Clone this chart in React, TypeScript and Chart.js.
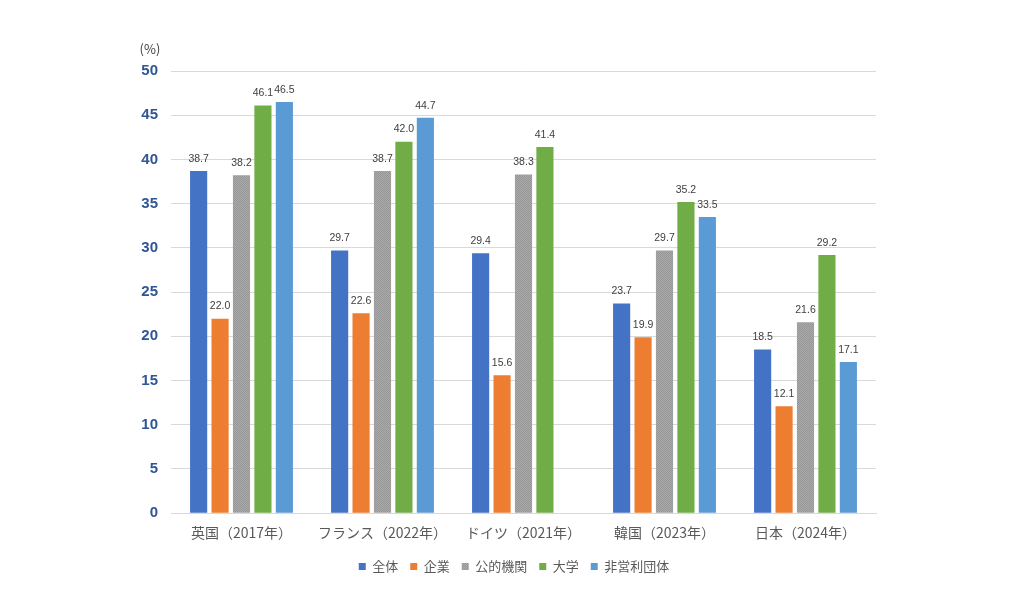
import { useEffect, useRef } from "react"
import { Chart, registerables } from "chart.js"
import type { Plugin } from "chart.js"

Chart.register(...registerables)

const categories = ["英国（2017年）", "フランス（2022年）", "ドイツ（2021年）", "韓国（2023年）", "日本（2024年）"]
const seriesNames = ["全体", "企業", "公的機関", "大学", "非営利団体"]
const overall = [38.7, 29.7, 29.4, 23.7, 18.5]
const business = [22.0, 22.6, 15.6, 19.9, 12.1]
const publicSector = [38.2, 38.7, 38.3, 29.7, 21.6]
const university = [46.1, 42.0, 41.4, 35.2, 29.2]
const nonProfit = [46.5, 44.7, null, 33.5, 17.1]
const yTicks = [0, 5, 10, 15, 20, 25, 30, 35, 40, 45, 50]

function grayPattern(): CanvasPattern | string {
  const c = document.createElement("canvas")
  c.width = 2
  c.height = 2
  const g = c.getContext("2d")
  if (!g) return "#a5a5a5"
  g.fillStyle = "#aaaaaa"
  g.fillRect(0, 0, 2, 2)
  g.fillStyle = "#969696"
  g.fillRect(0, 0, 1, 1)
  g.fillRect(1, 1, 1, 1)
  return g.createPattern(c, "repeat") || "#a5a5a5"
}

// value labels above each bar + "(%)" unit label
const labelsPlugin: Plugin<"bar"> = {
  id: "valueLabels",
  afterDatasetsDraw(chart) {
    const ctx = chart.ctx
    ctx.save()
    ctx.font = "10.5px 'Liberation Sans', 'Noto Sans', sans-serif"
    ctx.fillStyle = "#404040"
    ctx.textAlign = "center"
    ctx.textBaseline = "bottom"
    chart.data.datasets.forEach((ds, i) => {
      const meta = chart.getDatasetMeta(i)
      meta.data.forEach((bar, j) => {
        const v = ds.data[j] as number | null
        if (v == null) return
        ctx.fillText(v.toFixed(1), bar.x, bar.y - 7)
      })
    })
    ctx.font = "13px 'Noto Sans CJK JP', sans-serif"
    ctx.fillStyle = "#404040"
    ctx.textAlign = "center"
    ctx.textBaseline = "middle"
    ctx.fillText("(%)", chart.chartArea.left - 21, chart.chartArea.top - 22)
    ctx.restore()
  },
}

export default function App() {
  const chartRef = useRef<HTMLCanvasElement>(null)
  const chartInstance = useRef<Chart | null>(null)

  useEffect(() => {
    if (!chartRef.current) return
    if (chartInstance.current) chartInstance.current.destroy()
    const ctx = chartRef.current.getContext("2d")
    if (!ctx) return

    const colors = ["#4472C4", "#ED7D31", grayPattern(), "#70AD47", "#5B9BD5"]
    const values = [overall, business, publicSector, university, nonProfit]

    chartInstance.current = new Chart(ctx, {
      type: "bar",
      data: {
        labels: categories,
        datasets: seriesNames.map((name, i) => ({
          label: name,
          data: values[i],
          backgroundColor: colors[i],
          borderWidth: 0,
          categoryPercentage: 0.76,
          barPercentage: 0.8,
        })),
      },
      options: {
        animation: false,
        responsive: true,
        maintainAspectRatio: false,
        layout: { padding: { left: 110, right: 106, top: 71, bottom: 33 } },
        plugins: {
          legend: {
            position: "bottom",
            labels: {
              boxWidth: 7,
              boxHeight: 7,
              padding: 12,
              color: "#595959",
              font: { size: 13, family: "'Noto Sans CJK JP', sans-serif" },
            },
          },
          tooltip: { enabled: false },
        },
        scales: {
          x: {
            grid: { display: false },
            border: { color: "#d9d9d9" },
            afterFit: (scale) => {
              scale.height += 4
            },
            ticks: {
              color: "#595959",
              padding: 3,
              font: { size: 14, family: "'Noto Sans CJK JP', sans-serif" },
            },
          },
          y: {
            min: 0,
            max: 50,
            afterFit: (scale) => {
              scale.width = 61
            },
            afterBuildTicks: (scale) => {
              scale.ticks = yTicks.map((v) => ({ value: v }))
            },
            grid: { color: "#d9d9d9", drawTicks: false },
            border: { display: false },
            ticks: {
              color: "#2F5597",
              padding: 13,
              font: { size: 15, weight: "bold", family: "'Liberation Sans', Arial, sans-serif" },
            },
          },
          // empty right axis: only keeps space so the legend sits where the original has it
          yRight: {
            position: "right",
            min: 0,
            max: 50,
            afterFit: (scale) => {
              scale.width = 42
            },
            grid: { display: false },
            border: { display: false },
            ticks: { display: false },
          },
        },
      },
      plugins: [labelsPlugin],
    })

    return () => {
      if (chartInstance.current) {
        chartInstance.current.destroy()
        chartInstance.current = null
      }
    }
  }, [])

  return (
    <div style={{ position: "fixed", left: 0, top: 0, width: 1024, height: 616, background: "#fff" }}>
      <canvas ref={chartRef} aria-label="研究者に占める女性の割合"></canvas>
    </div>
  )
}
